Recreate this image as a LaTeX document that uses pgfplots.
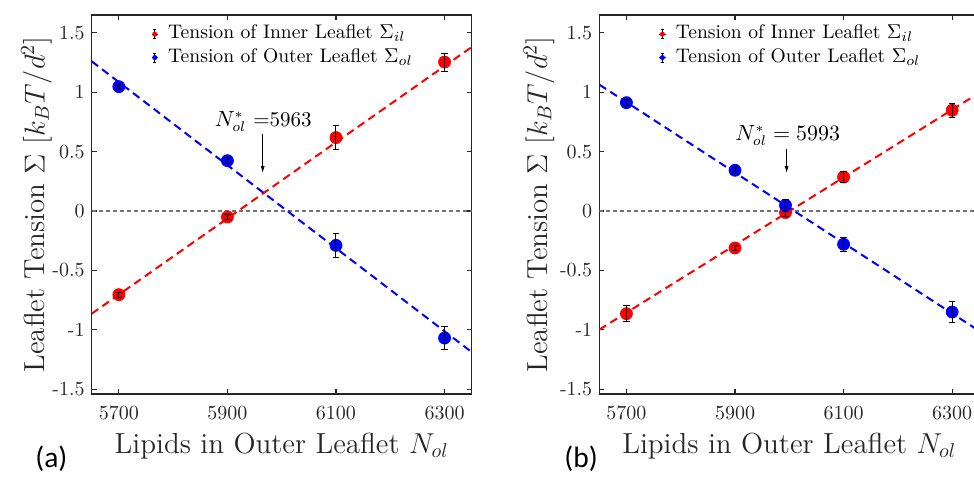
\documentclass[border=0pt]{standalone}
\usepackage{fontspec}
\usepackage{pgfplots}
\pgfplotsset{compat=1.18}
\usetikzlibrary{arrows.meta}
\newfontfamily\carlito{Carlito}
\definecolor{axgray}{rgb}{0.15,0.15,0.15}
\definecolor{zgray}{rgb}{0.45,0.45,0.45}
\pgfplotsset{
 panel/.style={
  scale only axis, width=190pt, height=189.5pt,
  xmin=5650, xmax=6350, ymin=-1.54, ymax=1.65,
  clip marker paths=true,
  xtick={5700,5900,6100,6300}, xticklabels={5700,5900,6100,6300},
  ytick={-1.5,-1,-0.5,0,0.5,1,1.5}, yticklabels={-1.5,-1,-0.5,0,0.5,1,1.5},
  tick pos=both, tick align=inside, major tick length=2.5pt,
  axis line style={axgray, line width=0.7pt},
  every tick/.style={axgray, line width=0.6pt},
  tick label style={text=axgray, font=\fontsize{10}{12}\selectfont},
  xticklabel style={yshift=-2.5pt},
  label style={text=axgray, font=\fontsize{14.5}{17}\selectfont},
  xlabel={Lipids in Outer Leaflet $N_{ol}$},
  ylabel={Leaflet Tension $\Sigma$ $[k_BT/d^2]$},
  xlabel style={at={(axis description cs:0.5,-0.1565)}, anchor=base},
  legend style={at={(axis description cs:0.1555,0.9755)}, anchor=north west,
    draw=none, fill=none, inner sep=0pt, row sep=2.2pt, column sep=4.9pt,
    font=\fontsize{9.8}{11}\selectfont,
    nodes={inner sep=0pt, text height=7pt, text depth=2.5pt, text=black}},
  legend cell align=left,
 },
 fitline/.style={line width=1pt, dash pattern=on 4pt off 2.5pt, forget plot},
 zeroline/.style={zgray, line width=0.6pt, dash pattern=on 2pt off 1.5pt, forget plot},
 dots/.style={only marks, mark=*, mark size=3pt, mark options={fill=#1, draw=#1}, forget plot},
 ebars/.style={only marks, mark=*, mark size=0pt, mark options={draw=none, fill=none}, forget plot,
   error bars/.cd, y dir=both, y explicit,
   error bar style={draw=black, line width=0.5pt},
   error mark options={draw=black, rotate=90, mark size=1.6pt, line width=0.5pt}},
 ebicon/.style={legend image code/.code={
   \draw[black, line width=0.4pt] (-1.6pt,0)--(1.6pt,0) (0,-2.3pt)--(0,2.3pt)
     (-0.8pt,2.3pt)--(0.8pt,2.3pt) (-0.8pt,-2.3pt)--(0.8pt,-2.3pt);
   \fill[#1] (0,0) circle (1.05pt);}},
}
\begin{document}
\begin{tikzpicture}
% ---------------- panel (a)
\begin{axis}[panel, at={(45.85pt,41.5pt)}, anchor=south west,
  ylabel style={at={(axis description cs:-0.1242,0.5)}, anchor=base}]
\addlegendimage{ebicon=red}
\addlegendentry{Tension of Inner Leaflet $\Sigma_{il}$}
\addlegendimage{ebicon=blue}
\addlegendentry{Tension of Outer Leaflet $\Sigma_{ol}$}
\addplot[zeroline] coordinates {(5650,0) (6350,0)};
\addplot[fitline, red] coordinates {(5650,-0.864) (6350,1.38)};
\addplot[fitline, blue] coordinates {(5650,1.26) (6350,-1.187)};
\addplot[dots=red] coordinates {(5700,-0.704) (5900,-0.05) (6100,0.618) (6300,1.254)};
\addplot[ebars] coordinates {(5700,-0.704) +- (0,0.02) (5900,-0.05) +- (0,0.025) (6100,0.618) +- (0,0.10) (6300,1.254) +- (0,0.076)};
\addplot[dots=blue] coordinates {(5700,1.047) (5900,0.424) (6100,-0.289) (6300,-1.069)};
\addplot[ebars] coordinates {(5700,1.047) +- (0,0.02) (5900,0.424) +- (0,0.025) (6100,-0.289) +- (0,0.098) (6300,-1.069) +- (0,0.098)};
\node[anchor=base, font=\fontsize{10.5}{12}\selectfont, text=black] at (axis cs:5966,0.713) {$N^*_{ol}$ =5963};
\draw[black, line width=0.4pt, -{Latex[length=3.5pt,width=2pt]}] (axis cs:5965,0.652) -- (axis cs:5965,0.32);
\end{axis}
% ---------------- panel (b)
\begin{axis}[panel, at={(299.65pt,41.5pt)}, anchor=south west,
  ylabel style={at={(axis description cs:-0.1376,0.5)}, anchor=base}]
\addlegendimage{ebicon=red}
\addlegendentry{Tension of Inner Leaflet $\Sigma_{il}$}
\addlegendimage{ebicon=blue}
\addlegendentry{Tension of Outer Leaflet $\Sigma_{ol}$}
\addplot[zeroline] coordinates {(5650,0) (6350,0)};
\addplot[fitline, red] coordinates {(5650,-0.998) (6350,0.995)};
\addplot[fitline, blue] coordinates {(5650,1.064) (6350,-1.01)};
\addplot[dots=red] coordinates {(5700,-0.864) (5900,-0.311) (5993,-0.013) (6100,0.286) (6300,0.848)};
\addplot[ebars] coordinates {(5700,-0.864) +- (0,0.065) (5900,-0.311) +- (0,0.025) (5993,-0.013) +- (0,0.035) (6100,0.286) +- (0,0.046) (6300,0.848) +- (0,0.06)};
\addplot[dots=blue] coordinates {(5700,0.912) (5900,0.343) (5993,0.048) (6100,-0.280) (6300,-0.85)};
\addplot[ebars] coordinates {(5700,0.912) +- (0,0.025) (5900,0.343) +- (0,0.025) (5993,0.048) +- (0,0.048) (6100,-0.280) +- (0,0.06) (6300,-0.85) +- (0,0.09)};
\node[anchor=base, font=\fontsize{10.5}{12}\selectfont, text=black] at (axis cs:5997,0.595) {$N^*_{ol} = 5993$};
\draw[black, line width=0.4pt, -{Latex[length=3.5pt,width=2pt]}] (axis cs:5995,0.525) -- (axis cs:5995,0.32);
\end{axis}
\node[anchor=base west, inner sep=0pt, font=\carlito\fontsize{14.75}{17}\selectfont, text=black] at (17.5pt,5pt) {(a)};
\node[anchor=base west, inner sep=0pt, font=\carlito\fontsize{14.75}{17}\selectfont, text=black] at (282pt,5pt) {(b)};
\pgfresetboundingbox
\useasboundingbox (0,0) rectangle (487pt,238.5pt);
\end{tikzpicture}
\end{document}
